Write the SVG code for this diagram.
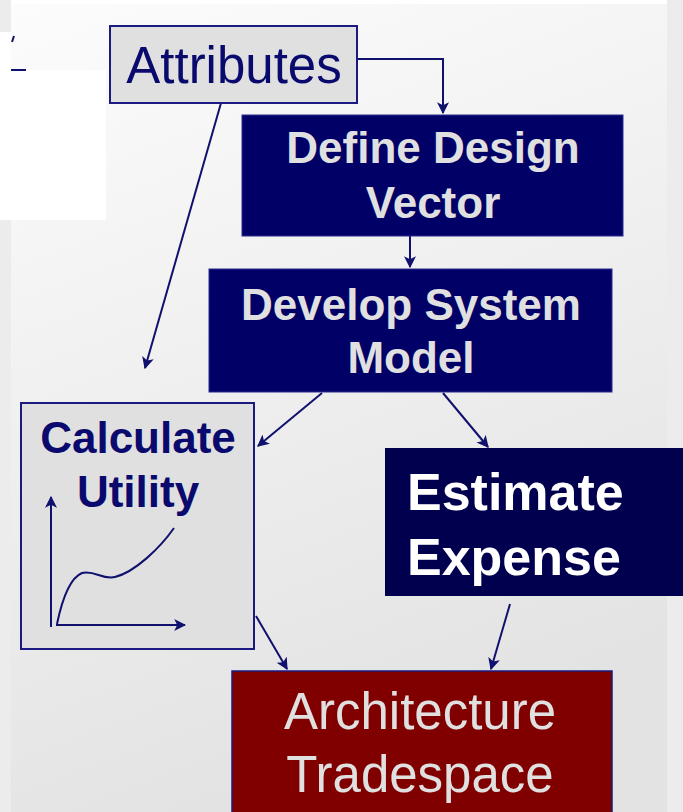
<svg xmlns="http://www.w3.org/2000/svg" width="683" height="812" viewBox="0 0 683 812">
  <style>
    .light { fill: #e0e0e0; stroke: #1a1a80; stroke-width: 2; }
    .navy { fill: #000066; stroke: #2a2a90; stroke-width: 1; }
    .dark { fill: #00004f; }
    .red { fill: #800000; stroke: #1a1a80; stroke-width: 1.5; }
    .t { font-family: "Liberation Sans", Arial, sans-serif; text-anchor: middle; }
    .b { font-weight: bold; }
    .conn { fill: none; stroke: #10106e; stroke-width: 2; }
  </style>
  <defs>
    <linearGradient id="bg" x1="0" y1="0" x2="0.3" y2="1">
      <stop offset="0" stop-color="#fcfcfc"/>
      <stop offset="1" stop-color="#e3e3e3"/>
    </linearGradient>
    <marker id="ah" viewBox="0 0 10 10" refX="9" refY="5" markerWidth="6" markerHeight="6" orient="auto" markerUnits="strokeWidth">
      <path d="M0,0 L10,5 L0,10 L2.5,5 z" fill="#10106e"/>
    </marker>
  </defs>

  <rect x="0" y="0" width="683" height="812" fill="#ececec"/>
  <rect x="11" y="0" width="656" height="4" fill="#ffffff"/>
  <rect x="11" y="4" width="656" height="808" fill="url(#bg)"/>
  <rect x="0" y="32" width="11" height="40" fill="#ffffff"/>
  <rect x="0" y="70" width="106" height="150" fill="#ffffff"/>

  <g id="connectors">
    <path class="conn" d="M11,70 L26,70"/>
    <path class="conn" d="M12,42 L14,36"/>
    <path class="conn" d="M357,59 L443,59 L443,113" marker-end="url(#ah)"/>
    <path class="conn" d="M221,103 L145,368" marker-end="url(#ah)"/>
    <path class="conn" d="M410,236 L410,267" marker-end="url(#ah)"/>
    <path class="conn" d="M322,393 L258,446" marker-end="url(#ah)"/>
    <path class="conn" d="M443,393 L488,447" marker-end="url(#ah)"/>
    <path class="conn" d="M256,616 L287,669" marker-end="url(#ah)"/>
    <path class="conn" d="M510,604 L491,669" marker-end="url(#ah)"/>
  </g>

  <g id="attributes">
    <rect class="light" x="110" y="26" width="247" height="77"/>
    <text class="t" x="234" y="83" font-size="51" fill="#0a0a6e">Attributes</text>
  </g>

  <g id="define-design-vector">
    <rect class="navy" x="242" y="115" width="381" height="121"/>
    <text class="t b" x="433" y="163" font-size="44" fill="#e0e0e0">Define Design</text>
    <text class="t b" x="433" y="218" font-size="44" fill="#e0e0e0">Vector</text>
  </g>

  <g id="develop-system-model">
    <rect class="navy" x="209" y="269" width="403" height="123"/>
    <text class="t b" x="411" y="320" font-size="44" fill="#e0e0e0">Develop System</text>
    <text class="t b" x="411" y="373" font-size="44" fill="#e0e0e0">Model</text>
  </g>

  <g id="calculate-utility">
    <rect class="light" x="21" y="403" width="233" height="246"/>
    <text class="t b" x="138" y="453" font-size="44" fill="#0a0a6e">Calculate</text>
    <text class="t b" x="138" y="507" font-size="44" fill="#0a0a6e">Utility</text>
    <path class="conn" d="M51,627 L51,497" marker-end="url(#ah)"/>
    <path class="conn" d="M56,625 L185,625" marker-end="url(#ah)"/>
    <path fill="none" stroke="#10106e" stroke-width="2" d="M57,624 C62,600 70,578 82,573 C95,570 102,580 115,577 C135,572 160,548 174,528"/>
  </g>

  <g id="estimate-expense">
    <rect class="dark" x="385" y="448" width="298" height="148"/>
    <text class="t b" x="407" y="510" font-size="52" fill="#ffffff" style="text-anchor:start">Estimate</text>
    <text class="t b" x="407" y="575" font-size="52" fill="#ffffff" style="text-anchor:start">Expense</text>
  </g>

  <g id="architecture-tradespace">
    <rect class="red" x="232" y="671" width="380" height="145"/>
    <text class="t" x="420" y="729" font-size="51" fill="#e0e0e0">Architecture</text>
    <text class="t" x="420" y="792" font-size="51" fill="#e0e0e0">Tradespace</text>
  </g>
</svg>
